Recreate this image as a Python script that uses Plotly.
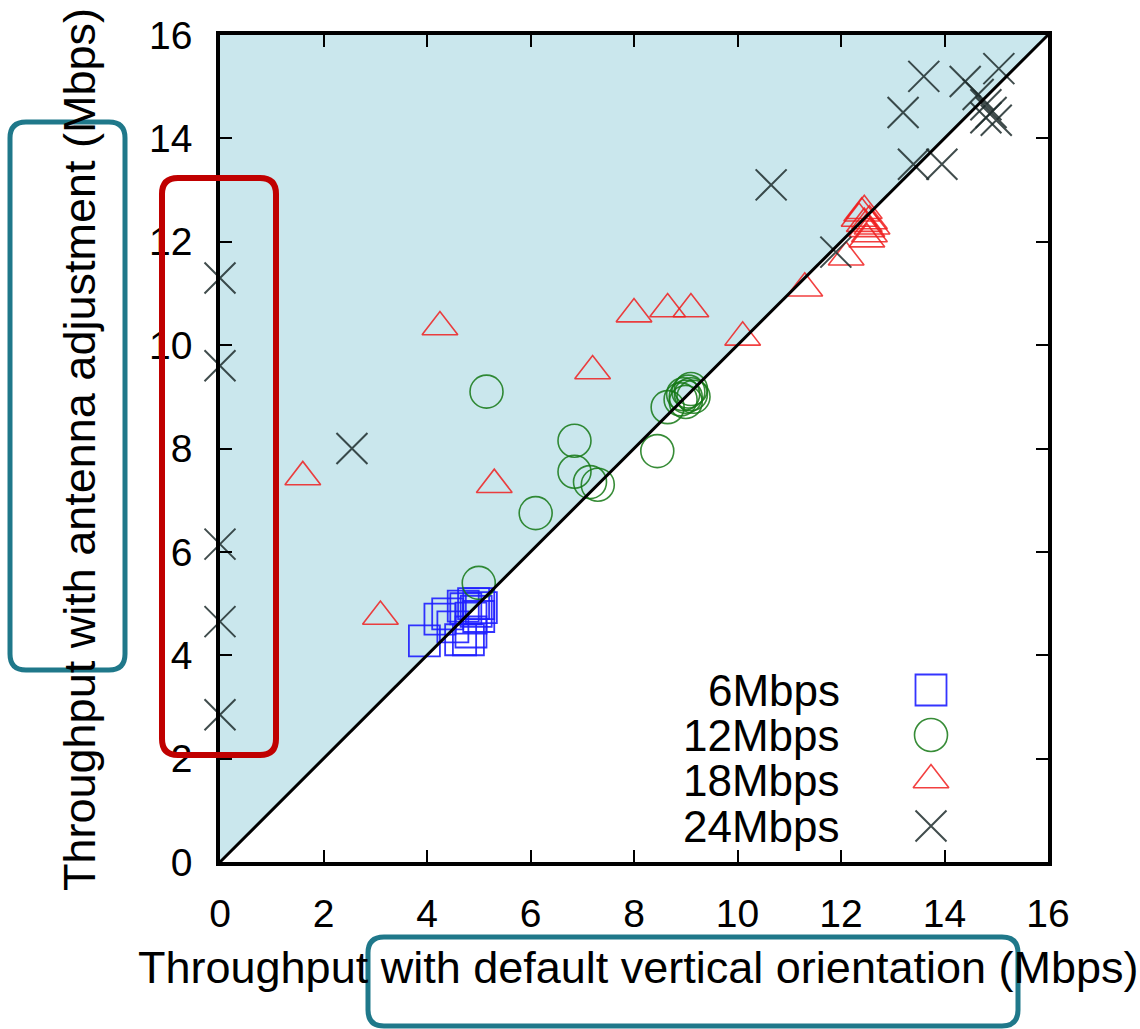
import plotly.graph_objects as go

# Throughput pairs (default vertical orientation, with antenna adjustment), Mbps
six_x = [3.95, 4.25, 4.4, 4.5, 4.65, 4.8, 4.85, 4.75, 4.9, 5.0, 5.05, 4.95, 4.85, 5.0, 4.7]
six_y = [4.28, 4.7, 4.8, 4.55, 4.3, 4.3, 4.45, 4.9, 5.0, 5.0, 4.92, 4.85, 4.72, 4.75, 4.95]

twelve_x = [5.0, 5.15, 6.1, 6.85, 6.85, 7.15, 7.3, 8.45, 8.65, 8.9, 9.0, 9.05, 9.1, 9.0, 9.15, 9.1, 8.95]
twelve_y = [5.4, 9.1, 6.75, 8.15, 7.55, 7.35, 7.3, 7.95, 8.8, 8.95, 9.0, 9.1, 9.05, 8.9, 9.0, 9.15, 9.05]

eighteen_x = [1.6, 3.1, 4.25, 5.3, 7.2, 8.0, 8.65, 9.1, 10.1, 11.3, 12.1,
              12.35, 12.4, 12.45, 12.5, 12.55, 12.5, 12.6, 12.45, 12.55]
eighteen_y = [7.45, 4.75, 10.35, 7.3, 9.5, 10.6, 10.7, 10.7, 10.15, 11.1, 11.7,
              12.45, 12.55, 12.35, 12.25, 12.15, 12.05, 12.3, 12.6, 12.4]

twentyfour_x = [0, 0, 0, 0, 0, 2.55, 10.65, 11.9, 13.2, 13.6, 14.4, 15.05,
                14.65, 14.8, 14.9, 15.0, 14.8, 13.4, 13.95]
twentyfour_y = [11.3, 9.6, 6.15, 4.65, 2.85, 8.0, 13.1, 11.8, 14.5, 15.2, 15.1, 15.35,
                14.85, 14.65, 14.5, 14.35, 14.4, 13.5, 13.5]

series_names = ["6Mbps", "12Mbps", "18Mbps", "24Mbps"]
tick_vals = [0, 2, 4, 6, 8, 10, 12, 14, 16]
x_title = "Throughput with default vertical orientation (Mbps)"
y_title = "Throughput with antenna adjustment (Mbps)"

W, H = 1140, 1029
L, R, T, B = 220, 92, 35, 167
PW, PH = W - L - R, H - T - B

BLUE = "rgba(30,30,255,0.9)"
GREEN = "rgba(20,120,20,0.85)"
RED = "rgba(240,30,30,0.85)"
GREY = "rgba(30,45,45,0.85)"

styles = [
    dict(symbol="square-open", size=31, color=BLUE, line=dict(width=1.8, color=BLUE)),
    dict(symbol="circle-open", size=33, color=GREEN, line=dict(width=1.6, color=GREEN)),
    dict(symbol="triangle-up-open", size=31, color=RED, line=dict(width=1.6, color=RED)),
    dict(symbol="x-thin-open", size=31, color=GREY, line=dict(width=2, color=GREY)),
]
data = [(six_x, six_y), (twelve_x, twelve_y), (eighteen_x, eighteen_y), (twentyfour_x, twentyfour_y)]

fig = go.Figure()
for (xs, ys), name, st in zip(data, series_names, styles):
    fig.add_trace(go.Scatter(x=xs, y=ys, mode="markers", name=name, marker=st,
                             cliponaxis=False, showlegend=False))

# key entries: label on the left, symbol on the right
key_rows_px = [690, 735, 780, 826]
for name, st, py in zip(series_names, styles, key_rows_px):
    fy = (H - B - py) / PH
    fig.add_trace(go.Scatter(x=[(931 - L) / PW], y=[fy], mode="markers", marker=st,
                             xaxis="x2", yaxis="y2", showlegend=False, hoverinfo="skip",
                             cliponaxis=False))
    fig.add_annotation(x=(842 - L) / PW, y=fy, xref="paper", yref="paper", text=name,
                       showarrow=False, xanchor="right", yanchor="middle",
                       font=dict(family="Liberation Sans, Arial", size=44, color="black"))


def px_to_paper(px, py):
    return (px - L) / PW, (H - B - py) / PH


def rounded_box(x0, y0, x1, y1, r):
    # x0,y0 top-left, x1,y1 bottom-right (pixels)
    def P(px, py):
        a, b = px_to_paper(px, py)
        return f"{a:.5f},{b:.5f}"
    return (f"M {P(x0 + r, y0)} L {P(x1 - r, y0)} Q {P(x1, y0)} {P(x1, y0 + r)} "
            f"L {P(x1, y1 - r)} Q {P(x1, y1)} {P(x1 - r, y1)} "
            f"L {P(x0 + r, y1)} Q {P(x0, y1)} {P(x0, y1 - r)} "
            f"L {P(x0, y0 + r)} Q {P(x0, y0)} {P(x0 + r, y0)} Z")


shapes = [
    # region where adjustment improves throughput
    dict(type="path", xref="x", yref="y", path="M 0,0 L 0,16 L 16,16 Z",
         fillcolor="#cae7ed", line=dict(width=0), layer="below"),
    dict(type="line", xref="x", yref="y", x0=0, y0=0, x1=16, y1=16,
         line=dict(color="black", width=3), layer="above"),
    dict(type="path", xref="paper", yref="paper", path=rounded_box(10, 122, 125, 670, 16),
         line=dict(color="#1f788a", width=5), layer="above"),
    dict(type="path", xref="paper", yref="paper", path=rounded_box(162, 178, 276, 755, 16),
         line=dict(color="#c00000", width=6), layer="above"),
    dict(type="path", xref="paper", yref="paper", path=rounded_box(368, 937, 1018, 1026, 16),
         line=dict(color="#1f788a", width=5), layer="above"),
]

axis_common = dict(range=[0, 16], tickvals=tick_vals, ticks="inside", ticklen=12, tickwidth=2,
                   tickcolor="black", showline=True, linewidth=3.5, linecolor="black",
                   mirror="ticks", showgrid=False, zeroline=False,
                   tickfont=dict(family="Liberation Sans, Arial", size=39, color="black"))

fig.update_layout(
    width=W, height=H, margin=dict(l=L, r=R, t=T, b=B),
    paper_bgcolor="white", plot_bgcolor="white",
    xaxis=dict(**axis_common, ticklabelstandoff=14),
    yaxis=dict(**axis_common, ticklabelstandoff=16),
    xaxis2=dict(range=[0, 1], overlaying="x", visible=False),
    yaxis2=dict(range=[0, 1], overlaying="y", visible=False),
    shapes=shapes,
)

fig.add_annotation(x=(638 - L) / PW, y=(H - B - 968) / PH, xref="paper", yref="paper",
                   text=x_title, showarrow=False, xanchor="center", yanchor="middle",
                   font=dict(family="Liberation Sans, Arial", size=45, color="black"))
fig.add_annotation(x=(80 - L) / PW, y=(H - B - 450) / PH, xref="paper", yref="paper",
                   text=y_title, showarrow=False, textangle=-90, xanchor="center", yanchor="middle",
                   font=dict(family="Liberation Sans, Arial", size=45, color="black"))

fig.write_html("out.html")
